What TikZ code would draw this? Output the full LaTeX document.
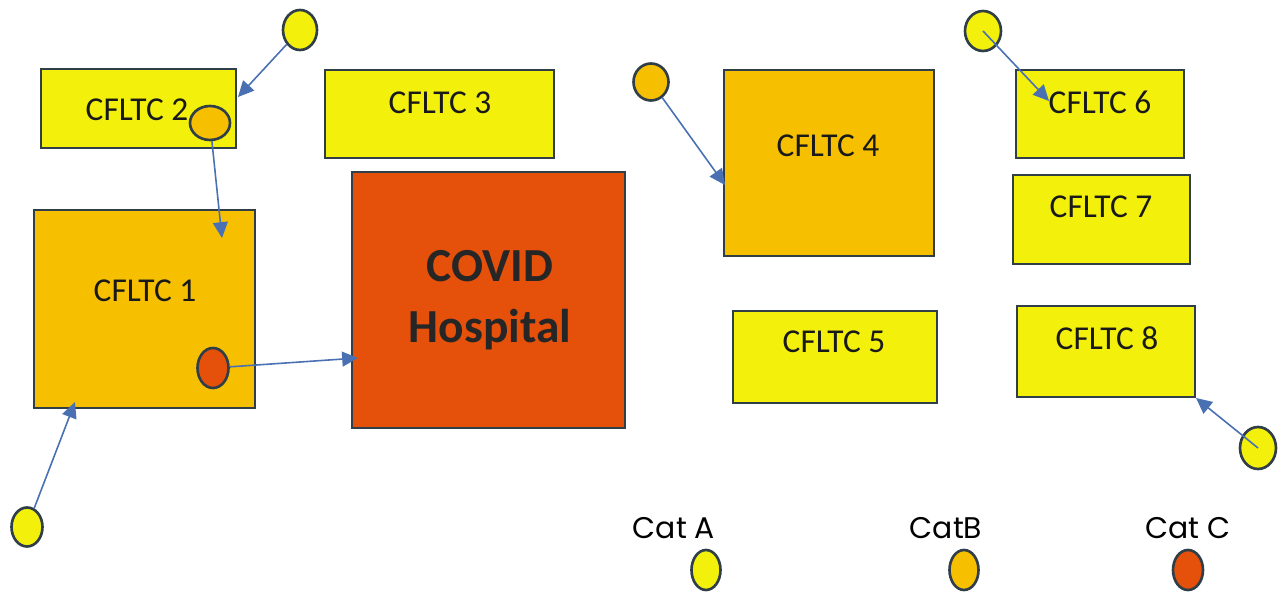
\documentclass[tikz,border=0pt]{standalone}
\usepackage{fontspec}
\setmainfont{Carlito}
\newfontfamily\legendfont{Poppins}
\usepackage{tikz}
\usetikzlibrary{shapes.geometric,arrows.meta}
\definecolor{catyellow}{RGB}{243,240,12}
\definecolor{catorange}{RGB}{246,192,0}
\definecolor{catred}{RGB}{229,80,10}
\definecolor{edgegray}{RGB}{48,62,72}
\definecolor{flowblue}{RGB}{72,112,178}

\begin{document}
\begin{tikzpicture}[x=0.02cm, y=-0.02cm,
  box/.style={rectangle, draw=edgegray, line width=1.2pt, inner sep=0pt},
  boxtext/.style={font=\fontsize{19}{22}\selectfont, text=black!90},
  dot/.style={ellipse, draw=edgegray, line width=1.5pt, inner sep=0pt},
  flow/.style={-{Triangle[length=9pt,width=8.5pt]}, draw=flowblue, fill=flowblue, line width=0.9pt}]
\useasboundingbox (0,0) rectangle (1278,594);

% Sites
\node[box, fill=catyellow, minimum width=3.9cm, minimum height=1.58cm] (c2) at (138.5,108.5) {};
\node[box, fill=catyellow, minimum width=4.58cm, minimum height=1.76cm] (c3) at (439.5,114) {};
\node[box, fill=catorange, minimum width=4.42cm, minimum height=3.96cm] (c1) at (144.5,309) {};
\node[box, fill=catred, minimum width=5.46cm, minimum height=5.12cm] (hosp) at (488.5,300) {};
\node[box, fill=catorange, minimum width=4.2cm, minimum height=3.72cm] (c4) at (829,163) {};
\node[box, fill=catyellow, minimum width=4.08cm, minimum height=1.84cm] (c5) at (835,357) {};
\node[box, fill=catyellow, minimum width=3.36cm, minimum height=1.76cm] (c6) at (1100,114) {};
\node[box, fill=catyellow, minimum width=3.54cm, minimum height=1.78cm] (c7) at (1101.5,219.5) {};
\node[box, fill=catyellow, minimum width=3.56cm, minimum height=1.82cm] (c8) at (1106,351.5) {};

% Site names
\node[boxtext] (t1) at (145,291) {CFLTC 1};
\node[boxtext] (t2) at (137,110) {CFLTC 2};
\node[boxtext] (t3) at (440,103) {CFLTC 3};
\node[boxtext] (t4) at (828,146) {CFLTC 4};
\node[boxtext] (t5) at (834,342) {CFLTC 5};
\node[boxtext] (t6) at (1100,102) {CFLTC 6};
\node[boxtext] (t7) at (1101,207) {CFLTC 7};
\node[boxtext] (t8) at (1107,338) {CFLTC 8};
\node[align=center, font=\fontsize{27}{35}\selectfont\bfseries, text=black!85] (th) at (490,300) {COVID\\Hospital};

% Patients
\node[dot, fill=catyellow, minimum width=0.68cm, minimum height=0.8cm] (a1) at (300,30) {};
\node[dot, fill=catorange, minimum width=0.8cm, minimum height=0.68cm] (b1) at (210,123) {};
\node[dot, fill=catred, minimum width=0.62cm, minimum height=0.8cm] (r1) at (213,368) {};
\node[dot, fill=catyellow, minimum width=0.62cm, minimum height=0.78cm] (a2) at (27,527) {};
\node[dot, fill=catorange, minimum width=0.7cm, minimum height=0.74cm] (b2) at (651,82) {};
\node[dot, fill=catyellow, minimum width=0.72cm, minimum height=0.8cm] (a3) at (983,31) {};
\node[dot, fill=catyellow, minimum width=0.72cm, minimum height=0.84cm] (a4) at (1258,448) {};

% Arrow ends
\coordinate (e1) at (238,97);
\coordinate (e2) at (222,238);
\coordinate (e3) at (358,358);
\coordinate (e4) at (75,402);
\coordinate (e5) at (725,185);
\coordinate (e6) at (1049,101);
\coordinate (e7) at (1196,398);

% Transfers
\draw[flow] (a1) -- (e1);
\draw[flow] (b1) -- (e2);
\draw[flow] (r1) -- (e3);
\draw[flow] (a2) -- (e4);
\draw[flow] (b2) -- (e5);
\draw[flow] (a3.center) -- (e6);
\draw[flow] (a4.center) -- (e7);

% Legend
\node[font=\legendfont\fontsize{17}{20}\selectfont] (la) at (674,528) {Cat A};
\node[font=\legendfont\fontsize{17}{20}\selectfont] (lb) at (946,528) {CatB};
\node[font=\legendfont\fontsize{17}{20}\selectfont] (lc) at (1188,528) {Cat C};
\node[dot, fill=catyellow, minimum width=0.58cm, minimum height=0.8cm] (ka) at (706,570) {};
\node[dot, fill=catorange, minimum width=0.58cm, minimum height=0.8cm] (kb) at (964,570) {};
\node[dot, fill=catred, minimum width=0.6cm, minimum height=0.8cm] (kc) at (1188,570) {};
\end{tikzpicture}
\end{document}
